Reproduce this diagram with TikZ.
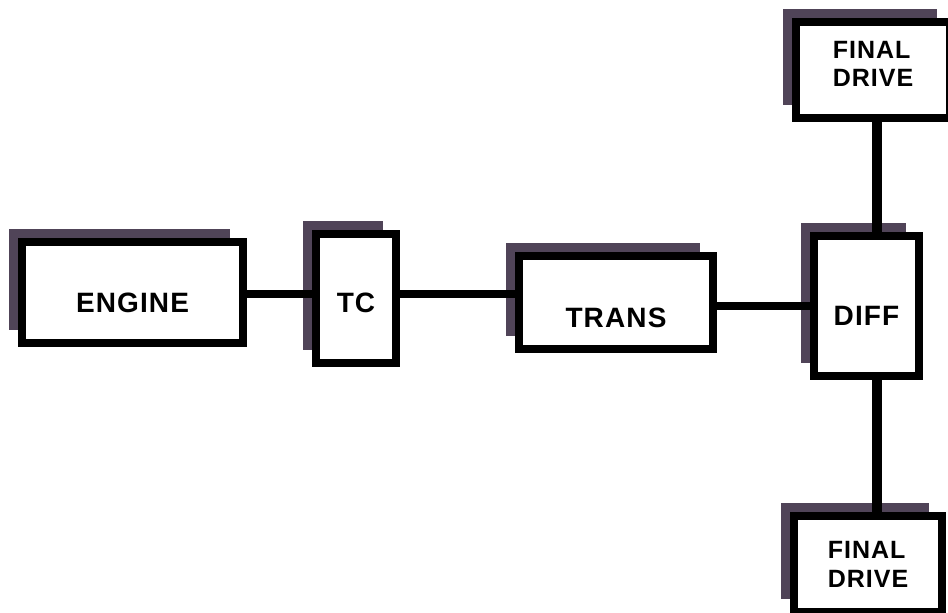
\documentclass[tikz,border=0pt]{standalone}
\usepackage{fontspec}
\setmainfont{Liberation Sans}[LetterSpace=4]
\usetikzlibrary{shadows}
\definecolor{shadecol}{RGB}{80,68,88}
% place a label's baseline a given distance above the node centre
\newcommand{\atbase}[2]{\raisebox{#1}[0pt][0pt]{#2}}
\newcommand{\twolines}[2]{\begin{tabular}[t]{@{}l@{}}#1\\#2\end{tabular}}

\begin{document}
\begin{tikzpicture}[x=1pt,y=-1pt,
  unit/.style={draw=black, line width=7.5pt, fill=white, inner sep=0pt, outer sep=0pt,
    font=\fontsize{28}{30}\selectfont\bfseries,
    general shadow={fill=shadecol, shadow xshift=-13pt, shadow yshift=13pt}},
  drivebox/.style={unit, font=\fontsize{25}{29}\selectfont\bfseries},
  shaft/.style={line width=8pt}]
  \useasboundingbox (0,0) rectangle (948,613);
  \clip (0,0) rectangle (948,613);

  % units of the drive train
  \node[unit, minimum width=221pt, minimum height=101pt] (engine) at (132.5,292.5) {\atbase{-19.5pt}{ENGINE}};
  \node[unit, minimum width=80pt, minimum height=129pt] (tc) at (356,298.5) {\atbase{-13.5pt}{TC}};
  \node[unit, minimum width=194pt, minimum height=93pt] (trans) at (616,302.5) {\atbase{-24.5pt}{TRANS}};
  \node[unit, minimum width=105pt, minimum height=140pt] (diff) at (866.5,306) {\atbase{-19pt}{DIFF}};
  \node[drivebox, minimum width=154pt, minimum height=96pt] (fdtop) at (873,70) {\atbase{12pt}{\twolines{FINAL}{DRIVE}}};
  \node[drivebox, minimum width=148pt, minimum height=96pt] (fdbot) at (868,564) {\atbase{6pt}{\twolines{FINAL}{DRIVE}}};

  % shafts between the units
  \draw[shaft] (engine.east) ++(0,1.5) coordinate (e1) -- (tc.west |- e1);
  \draw[shaft] (tc.east |- e1) -- (trans.west |- e1);
  \draw[shaft] ([yshift=-3pt]trans.east) coordinate (t1) -- (diff.west |- t1);
  \draw[shaft, line width=10pt] ([xshift=10.5pt]diff.north) coordinate (d1) -- (fdtop.south -| d1);
  \draw[shaft, line width=10pt] ([xshift=10.5pt]diff.south) coordinate (d2) -- (fdbot.north -| d2);
\end{tikzpicture}
\end{document}
